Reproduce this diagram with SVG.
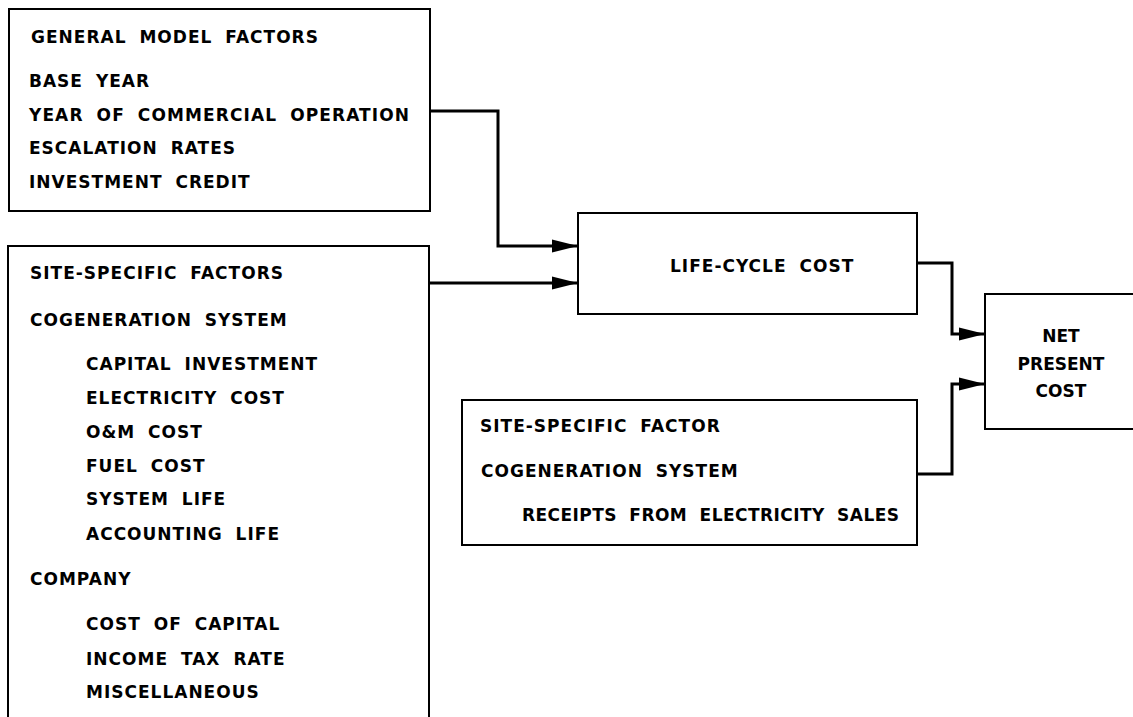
<svg xmlns="http://www.w3.org/2000/svg" width="1133" height="717" viewBox="0 0 1133 717">
<style>
  .box { fill: #fff; stroke: #000; stroke-width: 2; }
  .t { font-family: "DejaVu Sans", "Liberation Sans", sans-serif; font-weight: bold; font-size: 17px; letter-spacing: 1px; word-spacing: 6px; fill: #000; }
  .c { text-anchor: middle; letter-spacing: 0px; word-spacing: 4px; }
  .conn { fill: none; stroke: #000; stroke-width: 3; marker-end: url(#arr); }
</style>
<defs>
  <marker id="arr" markerUnits="userSpaceOnUse" markerWidth="27" markerHeight="14" refX="26" refY="7" orient="auto">
    <path d="M0,0.5 L26,7 L0,13.5 Z" fill="#000"/>
  </marker>
</defs>
<rect width="1133" height="717" fill="#fff"/>

<g id="general-model-factors">
  <rect class="box" x="9" y="9" width="421" height="202"/>
  <text class="t" x="31" y="43">GENERAL MODEL FACTORS</text>
  <text class="t" x="29" y="87">BASE YEAR</text>
  <text class="t" x="29" y="121" textLength="381" lengthAdjust="spacing">YEAR OF COMMERCIAL OPERATION</text>
  <text class="t" x="29" y="154">ESCALATION RATES</text>
  <text class="t" x="29" y="188">INVESTMENT CREDIT</text>
</g>

<g id="site-specific-factors">
  <rect class="box" x="8" y="246" width="421" height="490"/>
  <text class="t" x="30" y="279">SITE-SPECIFIC FACTORS</text>
  <text class="t" x="30" y="326">COGENERATION SYSTEM</text>
  <text class="t" x="86" y="370">CAPITAL INVESTMENT</text>
  <text class="t" x="86" y="404">ELECTRICITY COST</text>
  <text class="t" x="86" y="438">O&amp;M COST</text>
  <text class="t" x="86" y="472">FUEL COST</text>
  <text class="t" x="86" y="505">SYSTEM LIFE</text>
  <text class="t" x="86" y="540">ACCOUNTING LIFE</text>
  <text class="t" x="30" y="585">COMPANY</text>
  <text class="t" x="86" y="630">COST OF CAPITAL</text>
  <text class="t" x="86" y="665">INCOME TAX RATE</text>
  <text class="t" x="86" y="698">MISCELLANEOUS</text>
</g>

<g id="life-cycle-cost">
  <rect class="box" x="578" y="213" width="339" height="101"/>
  <text class="t" x="670" y="272">LIFE-CYCLE COST</text>
</g>

<g id="site-specific-factor">
  <rect class="box" x="462" y="400" width="455" height="145"/>
  <text class="t" x="480" y="432">SITE-SPECIFIC FACTOR</text>
  <text class="t" x="481" y="477">COGENERATION SYSTEM</text>
  <text class="t" x="522" y="521" textLength="378" lengthAdjust="spacing">RECEIPTS FROM ELECTRICITY SALES</text>
</g>

<g id="net-present-cost">
  <rect class="box" x="985" y="294" width="160" height="135"/>
  <text class="t c" x="1061" y="342">NET</text>
  <text class="t c" x="1061" y="370">PRESENT</text>
  <text class="t c" x="1061" y="397">COST</text>
</g>

<g id="connectors">
  <path class="conn" d="M430,111 H498 V246 H578"/>
  <path class="conn" d="M429,283 H578"/>
  <path class="conn" d="M917,263 H952 V334 H985"/>
  <path class="conn" d="M917,474 H952 V384 H985"/>
</g>
</svg>
